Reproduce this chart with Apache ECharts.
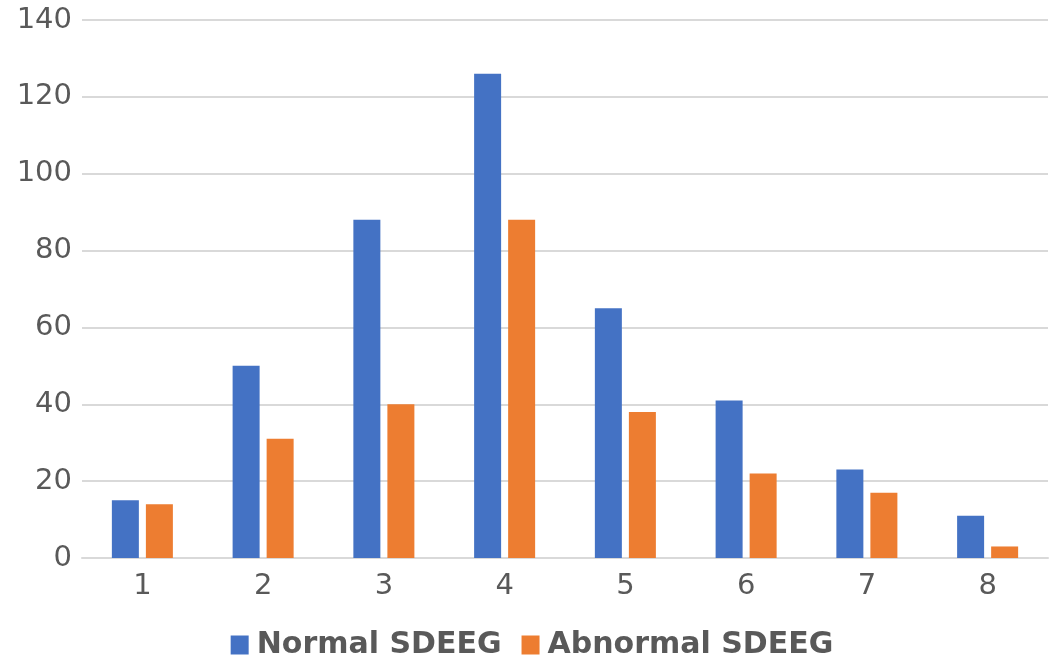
<!DOCTYPE html>
<html><head><meta charset="utf-8">
<script src="https://cdn.jsdelivr.net/npm/echarts@6/dist/echarts.min.js"></script>
<style>html,body{margin:0;padding:0;background:#fff}#c{width:1064px;height:661px}</style>
</head><body><div id="c"></div>
<script>
const categories = ['1','2','3','4','5','6','7','8'];
const normalSDEEG = [15, 50, 88, 126, 65, 41, 23, 11];
const abnormalSDEEG = [14, 31, 40, 88, 38, 22, 17, 3];
const seriesNames = ['Normal SDEEG', 'Abnormal SDEEG'];

const chart = echarts.init(document.getElementById('c'));
const font = 'DejaVu Sans';
chart.setOption({
  animation: false,
  grid: {left: 82, right: 16, top: 20, bottom: 103, containLabel: false},
  legend: {
    bottom: -4, left: 'center',
    itemWidth: 18, itemHeight: 19, itemGap: 20,
    icon: 'rect',
    textStyle: {fontFamily: font, fontSize: 30, fontWeight: 'bold', color: '#595959', padding: [0, 0, 0, 3]},
    data: seriesNames
  },
  xAxis: {
    type: 'category', data: categories,
    axisLine: {lineStyle: {color: '#d9d9d9', width: 2}},
    axisTick: {show: false},
    axisLabel: {fontFamily: font, fontSize: 29, color: '#595959', margin: 14}
  },
  yAxis: {
    type: 'value', min: 0, max: 140, interval: 20,
    axisLine: {show: false}, axisTick: {show: false},
    splitLine: {lineStyle: {color: '#d9d9d9', width: 2}},
    axisLabel: {fontFamily: font, fontSize: 29, color: '#595959', margin: 10}
  },
  series: [
    {name: seriesNames[0], type: 'bar', data: normalSDEEG, itemStyle: {color: '#4472c4'}, barWidth: 27, barGap: '26%'},
    {name: seriesNames[1], type: 'bar', data: abnormalSDEEG, itemStyle: {color: '#ed7d31'}, barWidth: 27, barGap: '26%'}
  ]
});
</script></body></html>
